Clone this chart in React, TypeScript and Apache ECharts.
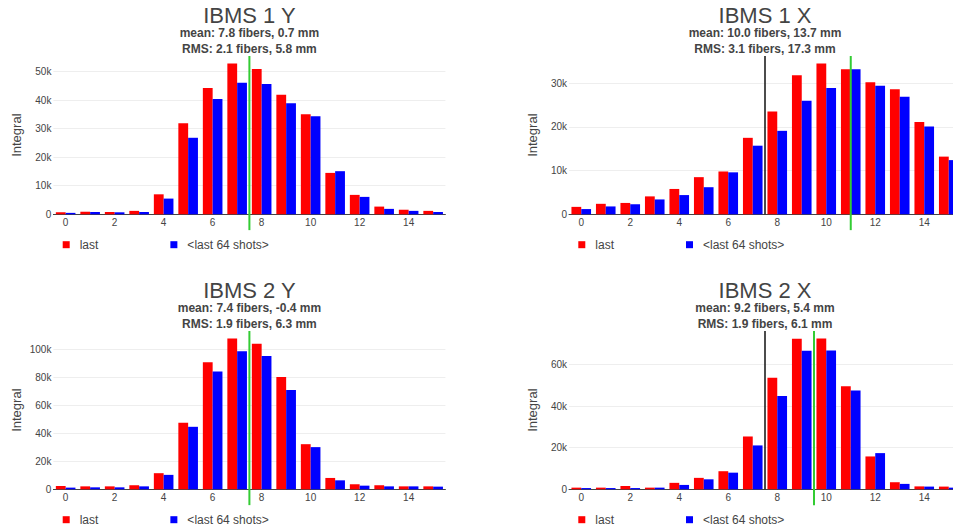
import React, { useEffect, useRef } from "react";
import * as echarts from "echarts";

const categories = ["0", "1", "2", "3", "4", "5", "6", "7", "8", "9", "10", "11", "12", "13", "14", "15"];

const ibms1YLast = [700, 900, 800, 1200, 7000, 31900, 44200, 52800, 50900, 41900, 35000, 14500, 6800, 2700, 1600, 1200];
const ibms1YAvg = [500, 800, 700, 800, 5500, 26800, 40400, 46100, 45600, 38900, 34300, 15100, 6100, 1900, 1200, 800];
const ibms1XLast = [1700, 2400, 2600, 4100, 5800, 8500, 9800, 17500, 23500, 31800, 34500, 33200, 30200, 28600, 21100, 13200];
const ibms1XAvg = [1200, 1800, 2300, 3400, 4400, 6200, 9600, 15700, 19100, 26000, 28900, 33200, 29400, 26900, 20100, 12400];
const ibms2YLast = [2400, 2100, 2100, 2900, 11500, 47500, 90700, 107600, 103800, 80200, 32200, 8100, 3600, 2900, 2100, 2100];
const ibms2YAvg = [1200, 1400, 1400, 2100, 10300, 44600, 84000, 98600, 95200, 70900, 30100, 6400, 2600, 2100, 2100, 1900];
const ibms2XLast = [800, 800, 1600, 800, 3100, 5500, 8700, 25400, 53700, 72400, 72500, 49500, 15800, 3400, 1400, 1300];
const ibms2XAvg = [600, 600, 600, 800, 2100, 4800, 8000, 21100, 44900, 66600, 66800, 47500, 17400, 2600, 1300, 800];

const titles = ["IBMS 1 Y", "IBMS 1 X", "IBMS 2 Y", "IBMS 2 X"];
const meanTexts = ["mean: 7.8 fibers, 0.7 mm", "mean: 10.0 fibers, 13.7 mm", "mean: 7.4 fibers, -0.4 mm", "mean: 9.2 fibers, 5.4 mm"];
const rmsTexts = ["RMS: 2.1 fibers, 5.8 mm", "RMS: 3.1 fibers, 17.3 mm", "RMS: 1.9 fibers, 6.3 mm", "RMS: 1.9 fibers, 6.1 mm"];
const yIntervals = [10000, 10000, 20000, 20000];
const greenLineX = [7.5, 11, 7.5, 9.5];
const blackLineX: (number | null)[] = [null, 7.5, null, 7.5];

const lastSeries = [ibms1YLast, ibms1XLast, ibms2YLast, ibms2XLast];
const avgSeries = [ibms1YAvg, ibms1XAvg, ibms2YAvg, ibms2XAvg];

const seriesNames = ["last", "<last 64 shots>"];

const FONT = '"Liberation Sans", Arial, sans-serif';
const TXT = "#444";

// layout of the four panels
const panelLeft = [53.4, 569, 53.4, 569];
const panelTop = [56, 56, 331, 331];
const plotW = 392;
const plotH = 158.3;

export default function App() {
  const ref = useRef<HTMLDivElement>(null);
  useEffect(() => {
    if (!ref.current) return;
    const chart = echarts.init(ref.current, null, { renderer: "svg" });

    const grids: any[] = [];
    const xAxes: any[] = [];
    const yAxes: any[] = [];
    const series: any[] = [];
    const legends: any[] = [];
    const graphics: any[] = [];
    const hiddenX: any[] = [];

    for (let i = 0; i < 4; i++) {
      const yMax = Math.max(...lastSeries[i], ...avgSeries[i]) * 1.05;
      const left = panelLeft[i];
      const top = panelTop[i];
      const dy = top - 56;
      grids.push({ left, top, width: plotW, height: plotH, outerBoundsMode: "none", containLabel: false });
      xAxes.push({
        type: "category",
        gridIndex: i,
        data: categories,
        boundaryGap: true,
        axisLine: { show: true, lineStyle: { color: TXT, width: 1 } },
        axisTick: { show: false },
        axisLabel: { interval: 1, fontSize: 10, color: TXT, fontFamily: FONT, margin: 3 },
        splitLine: { show: false },
      });
      hiddenX.push({ type: "value", gridIndex: i, min: -0.5, max: 15.5, show: false });
      yAxes.push({
        type: "value",
        gridIndex: i,
        min: 0,
        max: yMax,
        interval: yIntervals[i],
        name: "Integral",
        nameLocation: "middle",
        nameRotate: 90,
        nameGap: 30,
        nameTextStyle: { fontSize: 13, color: TXT, fontFamily: FONT },
        axisLine: { show: false },
        axisTick: { show: false },
        axisLabel: {
          fontSize: 10,
          color: TXT,
          fontFamily: FONT,
          margin: 2,
          showMaxLabel: false,
          formatter: (v: number) => (v === 0 ? "0" : v / 1000 + "k"),
        },
        splitLine: { show: true, showMaxLine: false, lineStyle: { color: "#eeeeee", width: 1 } },
      });
      series.push({
        name: seriesNames[0],
        type: "bar",
        xAxisIndex: i,
        yAxisIndex: i,
        data: lastSeries[i],
        barGap: "0%",
        barCategoryGap: "20%",
        itemStyle: { color: "#ff0000" },
        silent: true,
      });
      series.push({
        name: seriesNames[1],
        type: "bar",
        xAxisIndex: i,
        yAxisIndex: i,
        data: avgSeries[i],
        barGap: "0%",
        barCategoryGap: "20%",
        itemStyle: { color: "#0000ff" },
        silent: true,
      });
      const bx = blackLineX[i];
      if (bx !== null) {
        series.push({
          name: "center",
          type: "line",
          xAxisIndex: 4 + i,
          yAxisIndex: i,
          data: [[bx, 0], [bx, yMax]],
          symbol: "none",
          clip: false,
          silent: true,
          z: 5,
          lineStyle: { color: "#111111", width: 1.5 },
        });
      }
      series.push({
        name: "position",
        type: "line",
        xAxisIndex: 4 + i,
        yAxisIndex: i,
        data: [[greenLineX[i], -0.1 * yMax], [greenLineX[i], yMax]],
        symbol: "none",
        clip: false,
        silent: true,
        z: 6,
        lineStyle: { color: "#33cc33", width: 2 },
      });
      legends.push({
        data: seriesNames,
        left: left + 9.3,
        top: 238.7 + dy,
        orient: "horizontal",
        padding: 0,
        itemWidth: 7,
        itemHeight: 7,
        itemGap: 72,
        icon: "rect",
        selectedMode: false,
        textStyle: { fontSize: 12, color: TXT, fontFamily: FONT, padding: [0, 0, 0, 5] },
      });
      const cx = left + plotW / 2;
      graphics.push({
        type: "text",
        x: cx,
        y: 4.1 + dy,
        silent: true,
        style: { text: titles[i], font: `22px ${FONT}`, fill: TXT, textAlign: "center", textVerticalAlign: "top" },
      });
      graphics.push({
        type: "text",
        x: cx,
        y: 25.3 + dy,
        silent: true,
        style: {
          text: meanTexts[i] + "\n" + rmsTexts[i],
          font: `bold 12px ${FONT}`,
          lineHeight: 15.6,
          fill: TXT,
          textAlign: "center",
          textVerticalAlign: "top",
        },
      });
    }

    chart.setOption({
      animation: false,
      backgroundColor: "#ffffff",
      textStyle: { fontFamily: FONT },
      grid: grids,
      xAxis: [...xAxes, ...hiddenX],
      yAxis: yAxes,
      legend: legends,
      series,
      graphic: graphics,
    });
    return () => chart.dispose();
  }, []);
  return <div ref={ref} style={{ position: "absolute", left: 0, top: 0, width: 953, height: 529 }} />;
}
